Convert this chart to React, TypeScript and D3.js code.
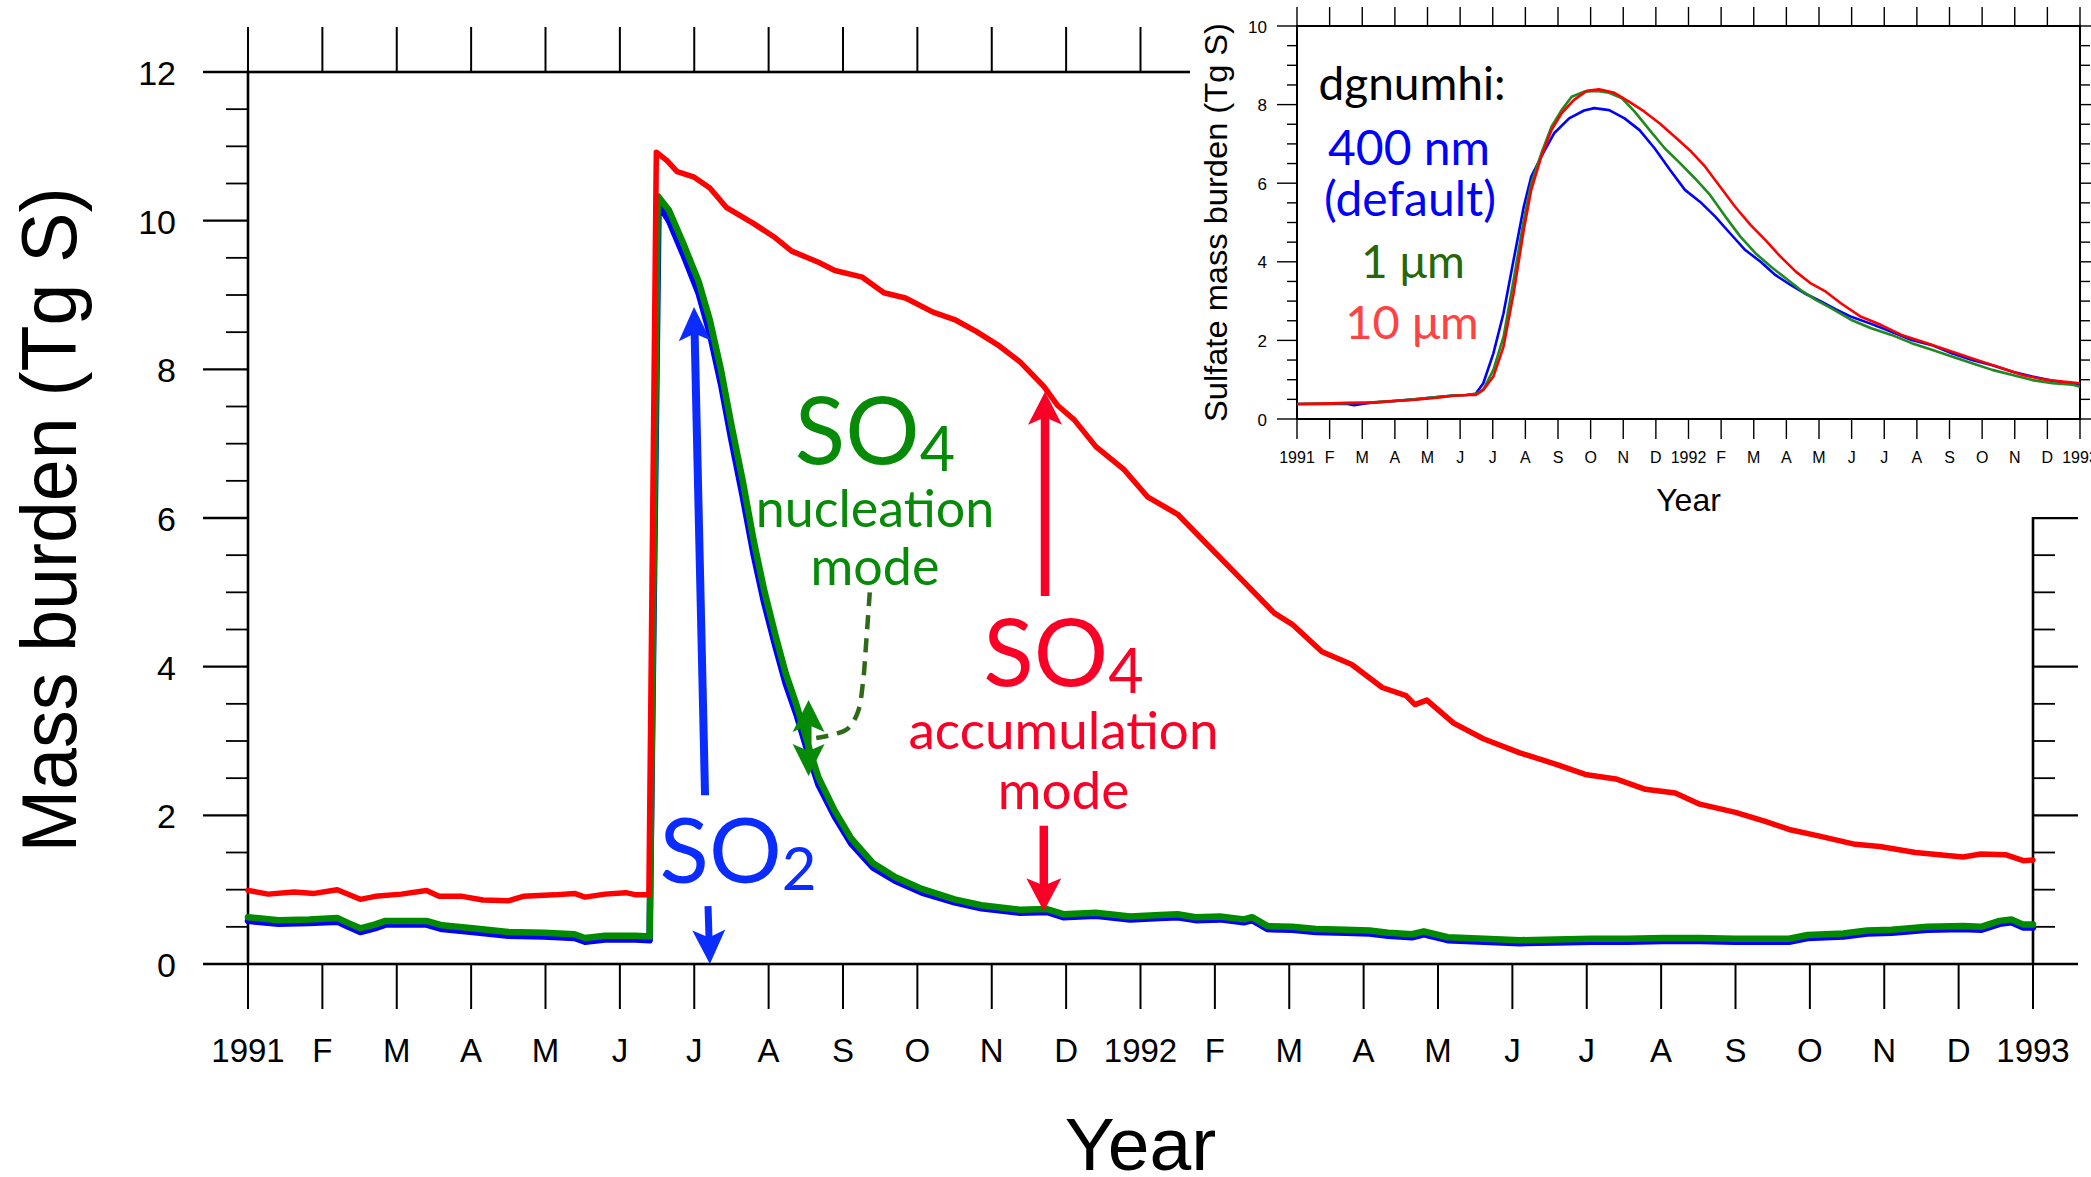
import React from "react";
import * as d3 from "d3";

type Pt = [number, number];

// x = months since 1 Jan 1991, y = burden (Tg S)
const so2Burden: Pt[] = [
  [0, 0.58], [0.41, 0.54], [0.82, 0.55], [1.2, 0.57], [1.35, 0.5], [1.51, 0.43], [1.7, 0.48], [1.85, 0.53],
  [2.4, 0.53], [2.61, 0.47], [3.02, 0.43], [3.5, 0.38], [3.98, 0.37], [4.39, 0.35], [4.53, 0.3], [4.8, 0.33],
  [5.21, 0.33], [5.4, 0.32], [5.52, 10.22], [5.66, 10.0], [5.85, 9.55], [6.06, 9.02], [6.21, 8.48], [6.36, 7.8],
  [6.5, 7.05], [6.65, 6.3], [6.8, 5.5], [6.94, 4.86], [7.09, 4.28], [7.23, 3.77], [7.38, 3.34], [7.53, 2.84],
  [7.67, 2.41], [7.89, 1.98], [8.11, 1.62], [8.4, 1.3], [8.7, 1.12], [9.06, 0.96], [9.5, 0.83], [9.86, 0.75],
  [10.38, 0.69], [10.74, 0.7], [10.96, 0.63], [11.4, 0.65], [11.86, 0.6], [12.26, 0.62], [12.5, 0.63],
  [12.74, 0.59], [13.07, 0.6], [13.39, 0.56], [13.5, 0.59], [13.71, 0.47], [14.04, 0.46], [14.36, 0.43],
  [14.76, 0.42], [15.08, 0.41], [15.33, 0.38], [15.65, 0.36], [15.81, 0.4], [16.13, 0.32], [16.62, 0.3],
  [17.1, 0.28], [17.58, 0.29], [18.06, 0.3], [18.55, 0.3], [19.03, 0.31], [19.52, 0.31], [20.0, 0.3],
  [20.48, 0.3], [20.72, 0.3], [20.97, 0.35], [21.45, 0.37], [21.77, 0.41], [22.1, 0.42], [22.58, 0.46],
  [23.06, 0.47], [23.3, 0.46], [23.55, 0.54], [23.71, 0.56], [23.87, 0.49], [24, 0.49],
];

const so4NucleationBurden: Pt[] = [
  [0, 0.63], [0.41, 0.59], [0.82, 0.6], [1.2, 0.62], [1.35, 0.55], [1.51, 0.48], [1.7, 0.53], [1.85, 0.58],
  [2.4, 0.58], [2.61, 0.52], [3.02, 0.48], [3.5, 0.43], [3.98, 0.42], [4.39, 0.4], [4.53, 0.35], [4.8, 0.38],
  [5.21, 0.38], [5.4, 0.37], [5.51, 10.33], [5.66, 10.14], [5.85, 9.7], [6.06, 9.18], [6.21, 8.66], [6.36, 7.99],
  [6.5, 7.25], [6.65, 6.51], [6.8, 5.69], [6.94, 5.03], [7.09, 4.43], [7.23, 3.91], [7.38, 3.47], [7.53, 2.95],
  [7.67, 2.51], [7.89, 2.06], [8.11, 1.69], [8.4, 1.36], [8.7, 1.17], [9.06, 1.01], [9.5, 0.87], [9.86, 0.79],
  [10.38, 0.73], [10.74, 0.74], [10.96, 0.67], [11.4, 0.69], [11.86, 0.64], [12.26, 0.66], [12.5, 0.67],
  [12.74, 0.63], [13.07, 0.64], [13.39, 0.6], [13.5, 0.63], [13.71, 0.51], [14.04, 0.5], [14.36, 0.47],
  [14.76, 0.46], [15.08, 0.45], [15.33, 0.42], [15.65, 0.4], [15.81, 0.44], [16.13, 0.36], [16.62, 0.34],
  [17.1, 0.32], [17.58, 0.33], [18.06, 0.34], [18.55, 0.34], [19.03, 0.35], [19.52, 0.35], [20.0, 0.34],
  [20.48, 0.34], [20.72, 0.34], [20.97, 0.39], [21.45, 0.41], [21.77, 0.45], [22.1, 0.46], [22.58, 0.5],
  [23.06, 0.51], [23.3, 0.5], [23.55, 0.58], [23.71, 0.6], [23.87, 0.53], [24, 0.53],
];

const so4AccumulationBurden: Pt[] = [
  [0, 0.99], [0.27, 0.94], [0.62, 0.97], [0.89, 0.95], [1.2, 1.0], [1.51, 0.87], [1.71, 0.91], [2.06, 0.94],
  [2.4, 0.99], [2.57, 0.91], [2.88, 0.91], [3.16, 0.86], [3.5, 0.85], [3.7, 0.91], [4.12, 0.93], [4.39, 0.95],
  [4.53, 0.9], [4.8, 0.94], [5.08, 0.96], [5.22, 0.93], [5.39, 0.93], [5.49, 10.92], [5.63, 10.81],
  [5.77, 10.66], [5.99, 10.59], [6.21, 10.44], [6.43, 10.18], [6.8, 9.96], [7.09, 9.77], [7.31, 9.59],
  [7.67, 9.44], [7.89, 9.33], [8.26, 9.24], [8.55, 9.03], [8.84, 8.96], [9.21, 8.77], [9.5, 8.67], [9.79, 8.51],
  [10.08, 8.33], [10.38, 8.1], [10.7, 7.77], [10.89, 7.51], [11.11, 7.32], [11.4, 6.96], [11.78, 6.65],
  [12.1, 6.28], [12.5, 6.05], [12.91, 5.63], [13.39, 5.14], [13.8, 4.72], [14.04, 4.57], [14.44, 4.2],
  [14.84, 4.03], [15.25, 3.72], [15.57, 3.61], [15.69, 3.49], [15.85, 3.55], [16.21, 3.24], [16.61, 3.03],
  [17.1, 2.84], [17.58, 2.69], [17.98, 2.55], [18.39, 2.49], [18.79, 2.35], [19.19, 2.3], [19.52, 2.15],
  [20.0, 2.04], [20.4, 1.92], [20.72, 1.81], [21.13, 1.72], [21.61, 1.61], [21.94, 1.58], [22.42, 1.5],
  [22.74, 1.47], [23.06, 1.44], [23.3, 1.48], [23.63, 1.47], [23.87, 1.39], [24, 1.4],
];

// Sulfate burden for three dgnumhi settings
const sulfate400nm: Pt[] = [
  [0, 0.38], [0.8, 0.38], [1.5, 0.39], [1.75, 0.35], [2.2, 0.41], [3.0, 0.46], [3.6, 0.5], [4.3, 0.56],
  [4.8, 0.6], [5.2, 0.61], [5.48, 0.64], [5.71, 0.91], [6.02, 1.67], [6.33, 2.69], [6.64, 4.05], [6.95, 5.4],
  [7.18, 6.17], [7.49, 6.68], [7.88, 7.27], [8.34, 7.65], [8.8, 7.85], [9.11, 7.91], [9.57, 7.86], [10.04, 7.65],
  [10.5, 7.35], [10.96, 6.89], [11.43, 6.34], [11.89, 5.83], [12.35, 5.53], [12.82, 5.15], [13.28, 4.72],
  [13.74, 4.3], [14.21, 4.0], [14.67, 3.66], [15.13, 3.41], [15.6, 3.18], [16.06, 2.99], [16.52, 2.79],
  [16.99, 2.6], [17.6, 2.42], [18.22, 2.22], [18.84, 2.01], [19.46, 1.88], [20.07, 1.67], [20.69, 1.5],
  [21.31, 1.37], [21.93, 1.2], [22.54, 1.08], [23.16, 0.97], [23.78, 0.91], [24, 0.87],
];

const sulfate1um: Pt[] = [
  [0, 0.38], [0.8, 0.39], [1.5, 0.4], [2.2, 0.42], [3.0, 0.46], [3.6, 0.5], [4.3, 0.56], [4.8, 0.6],
  [5.2, 0.61], [5.48, 0.64], [5.71, 0.75], [6.02, 1.25], [6.33, 2.09], [6.64, 3.54], [6.95, 5.06], [7.18, 6.0],
  [7.49, 6.76], [7.8, 7.44], [8.11, 7.86], [8.42, 8.2], [8.8, 8.33], [9.19, 8.35], [9.57, 8.3], [9.96, 8.16],
  [10.35, 7.82], [10.81, 7.35], [11.27, 6.89], [11.74, 6.51], [12.2, 6.12], [12.66, 5.7], [13.13, 5.15],
  [13.59, 4.64], [14.05, 4.22], [14.52, 3.88], [14.98, 3.58], [15.44, 3.28], [15.9, 3.03], [16.37, 2.82],
  [16.99, 2.52], [17.6, 2.31], [18.22, 2.14], [18.84, 1.93], [19.46, 1.76], [20.07, 1.59], [20.69, 1.42],
  [21.31, 1.25], [21.93, 1.12], [22.54, 0.99], [23.16, 0.91], [23.78, 0.87], [24, 0.82],
];

const sulfate10um: Pt[] = [
  [0, 0.38], [0.8, 0.39], [1.5, 0.41], [2.2, 0.41], [3.0, 0.46], [3.6, 0.49], [4.3, 0.54], [4.8, 0.59],
  [5.2, 0.61], [5.48, 0.61], [5.71, 0.74], [6.02, 1.08], [6.33, 1.84], [6.64, 3.2], [6.95, 4.81], [7.18, 5.83],
  [7.49, 6.68], [7.8, 7.35], [8.11, 7.78], [8.49, 8.12], [8.88, 8.35], [9.26, 8.39], [9.73, 8.3], [10.19, 8.07],
  [10.65, 7.82], [11.12, 7.52], [11.58, 7.18], [12.04, 6.84], [12.51, 6.42], [12.97, 5.91], [13.43, 5.4],
  [13.9, 4.94], [14.36, 4.55], [14.82, 4.13], [15.29, 3.75], [15.75, 3.45], [16.21, 3.24], [16.68, 2.94],
  [17.29, 2.6], [17.91, 2.39], [18.53, 2.14], [19.15, 1.97], [19.77, 1.8], [20.38, 1.63], [21.0, 1.46],
  [21.62, 1.29], [22.24, 1.12], [22.85, 1.01], [23.47, 0.95], [24, 0.91],
];

const monthLabels = [
  "1991", "F", "M", "A", "M", "J", "J", "A", "S", "O", "N", "D",
  "1992", "F", "M", "A", "M", "J", "J", "A", "S", "O", "N", "D", "1993",
];
const mainYTicks = [0, 2, 4, 6, 8, 10, 12];
const insetYTicks = [0, 2, 4, 6, 8, 10];

// ---- layout ----
const W = 2091;
const H = 1177;
const M = { left: 248, right: 2033, top: 72, bottom: 964 };
const I = { left: 1297, right: 2080, top: 26, bottom: 419 };
const NCL_FONT = "'Liberation Sans', Arial, Helvetica, sans-serif";
const NOTE_FONT = "Lato, 'Open Sans', sans-serif";

const COLORS = {
  so2: "#0000ff",
  nuc: "#008a00",
  acc: "#ff0000",
  so2Note: "#0a2cff",
  nucNote: "#078a07",
  accNote: "#fb0026",
  dashed: "#2f6a16",
  legend400: "#0000ff",
  legend1: "#24680a",
  legend10: "#ff4242",
  inset1: "#1f8a1f",
};

const x = d3.scaleLinear().domain([0, 24]).range([M.left, M.right]);
const y = d3.scaleLinear().domain([0, 12]).range([M.bottom, M.top]);
const xi = d3.scaleLinear().domain([0, 24]).range([I.left, I.right]);
const yi = d3.scaleLinear().domain([0, 10]).range([I.bottom, I.top]);

const mainLine = d3.line<Pt>().x((d) => x(d[0])).y((d) => y(d[1]));
const insetLine = d3.line<Pt>().x((d) => xi(d[0])).y((d) => yi(d[1]));

// Annotation anchors in data units (month, Tg S)
const so2UpArrow: [Pt, Pt] = [[6.145, 2.27], [5.997, 8.84]];
const so2DownArrow: [Pt, Pt] = [[6.185, 0.78], [6.21, 0.0]];
const accUpArrow: [Pt, Pt] = [[10.716, 4.95], [10.716, 7.7]];
const accDownArrow: [Pt, Pt] = [[10.7, 1.86], [10.7, 0.71]];
const nucDoubleArrow: [Pt, Pt] = [[7.537, 2.53], [7.537, 3.55]];
const nucLeader: Pt[] = [[8.36, 5.0], [8.31, 4.3], [8.27, 3.8], [8.2, 3.39], [8.07, 3.17], [7.92, 3.1], [7.64, 3.04]];
const nucLabelAt: Pt = [8.43, 6.727];
const accLabelAt: Pt = [10.965, 3.74];
const so2LabelAt: Pt = [6.59, 1.09];

function headPath(tip: [number, number], dir: [number, number], len: number, width: number) {
  const [ux, uy] = dir;
  const nx = -uy;
  const ny = ux;
  const bx = tip[0] - ux * len;
  const by = tip[1] - uy * len;
  const notchX = tip[0] - ux * len * 0.78;
  const notchY = tip[1] - uy * len * 0.78;
  return `M${tip[0]},${tip[1]} L${bx + (nx * width) / 2},${by + (ny * width) / 2} L${notchX},${notchY} L${bx - (nx * width) / 2},${by - (ny * width) / 2} Z`;
}

function Arrow({ seg, color, shaft = 8, len = 33, width = 33, both = false }: {
  seg: [Pt, Pt]; color: string; shaft?: number; len?: number; width?: number; both?: boolean;
}) {
  const p0: [number, number] = [x(seg[0][0]), y(seg[0][1])];
  const p1: [number, number] = [x(seg[1][0]), y(seg[1][1])];
  const dx = p1[0] - p0[0];
  const dy = p1[1] - p0[1];
  const L = Math.hypot(dx, dy);
  const u: [number, number] = [dx / L, dy / L];
  const end: [number, number] = [p1[0] - u[0] * len * 0.7, p1[1] - u[1] * len * 0.7];
  const start: [number, number] = both ? [p0[0] + u[0] * len * 0.7, p0[1] + u[1] * len * 0.7] : p0;
  return (
    <g>
      <line x1={start[0]} y1={start[1]} x2={end[0]} y2={end[1]} stroke={color} strokeWidth={shaft} />
      <path d={headPath(p1, u, len, width)} fill={color} />
      {both && <path d={headPath(p0, [-u[0], -u[1]], len, width)} fill={color} />}
    </g>
  );
}

function Species({ at, base, sub, color, size, subSize }: {
  at: Pt; base: string; sub: string; color: string; size: number; subSize: number;
}) {
  return (
    <text x={x(at[0])} y={y(at[1])} textAnchor="middle" fontFamily={NOTE_FONT} fontSize={size} fill={color}>
      {base}
      <tspan fontSize={subSize} dy={7}>{sub}</tspan>
    </text>
  );
}

export default function App() {
  const months = d3.range(0, 25);
  const mainMinor = d3.range(0, 12.01, 0.5);
  const insetMinor = d3.range(0, 10.01, 0.5);

  return (
    <svg
      width={W}
      height={H}
      viewBox={`0 0 ${W} ${H}`}
      style={{ position: "absolute", left: 0, top: 0, background: "#fff", display: "block" }}
    >
      <rect x={0} y={0} width={W} height={H} fill="#fff" />

      {/* ===== main panel ===== */}
      <g stroke="#000" strokeWidth={2}>
        {months.map((m) => (
          <g key={`mt${m}`}>
            <line x1={x(m)} x2={x(m)} y1={M.top} y2={M.top - 45} />
            <line x1={x(m)} x2={x(m)} y1={M.bottom} y2={M.bottom + 45} />
          </g>
        ))}
        {mainMinor.map((v) => {
          const major = Math.abs(v % 2) < 1e-6;
          const len = major ? 45 : 22;
          return (
            <g key={`my${v}`} strokeWidth={major ? 2.4 : 1.8}>
              <line x1={M.left} x2={M.left - len} y1={y(v)} y2={y(v)} />
              <line x1={M.right} x2={M.right + len} y1={y(v)} y2={y(v)} />
            </g>
          );
        })}
      </g>
      <rect
        x={M.left}
        y={M.top}
        width={M.right - M.left}
        height={M.bottom - M.top}
        fill="none"
        stroke="#000"
        strokeWidth={2.6}
      />

      <g fontFamily={NCL_FONT} fontSize={34} fill="#000">
        {mainYTicks.map((v) => (
          <text key={`yl${v}`} x={176} y={y(v) + 13} textAnchor="end">
            {v}
          </text>
        ))}
        {monthLabels.map((t, i) => (
          <text key={`xl${i}`} x={x(i)} y={1062} textAnchor="middle" fontSize={33}>
            {t}
          </text>
        ))}
      </g>
      <text x={(M.left + M.right) / 2} y={1170} textAnchor="middle" fontFamily={NCL_FONT} fontSize={75}>
        Year
      </text>
      <text
        transform={`translate(76,520) rotate(-90)`}
        textAnchor="middle"
        fontFamily={NCL_FONT}
        fontSize={77}
        textLength={665}
        lengthAdjust="spacingAndGlyphs"
      >
        Mass burden (Tg S)
      </text>

      {/* series */}
      <g fill="none" strokeLinejoin="round" strokeLinecap="round">
        <path d={mainLine(so2Burden) ?? ""} stroke={COLORS.so2} strokeWidth={6.5} />
        <path d={mainLine(so4NucleationBurden) ?? ""} stroke={COLORS.nuc} strokeWidth={6.5} />
        <path d={mainLine(so4AccumulationBurden) ?? ""} stroke={COLORS.acc} strokeWidth={5.5} />
      </g>

      {/* annotations */}
      <Arrow seg={so2UpArrow} color={COLORS.so2Note} shaft={8} len={34} width={32} />
      <Arrow seg={so2DownArrow} color={COLORS.so2Note} shaft={7} len={34} width={33} />
      <Arrow seg={accUpArrow} color={COLORS.accNote} shaft={8.5} len={33} width={34} />
      <Arrow seg={accDownArrow} color={COLORS.accNote} shaft={8.5} len={33} width={35} />
      <Arrow seg={nucDoubleArrow} color={COLORS.nucNote} shaft={6} len={32} width={32} both />
      <path
        d={
          d3
            .line<Pt>()
            .x((d) => x(d[0]))
            .y((d) => y(d[1]))
            .curve(d3.curveCatmullRom)(nucLeader) ?? ""
        }
        fill="none"
        stroke={COLORS.dashed}
        strokeWidth={4.5}
        strokeDasharray="14 9"
      />

      <Species at={nucLabelAt} base="SO" sub="4" color={COLORS.nucNote} size={93} subSize={61} />
      <text x={x(nucLabelAt[0])} y={527} textAnchor="middle" fontFamily={NOTE_FONT} fontSize={52} fill={COLORS.nucNote}>
        nucleation
      </text>
      <text x={x(nucLabelAt[0])} y={585} textAnchor="middle" fontFamily={NOTE_FONT} fontSize={52} fill={COLORS.nucNote}>
        mode
      </text>

      <Species at={accLabelAt} base="SO" sub="4" color={COLORS.accNote} size={93} subSize={61} />
      <text x={x(accLabelAt[0])} y={749} textAnchor="middle" fontFamily={NOTE_FONT} fontSize={53} fill={COLORS.accNote}>
        accumulation
      </text>
      <text x={x(accLabelAt[0])} y={809} textAnchor="middle" fontFamily={NOTE_FONT} fontSize={53} fill={COLORS.accNote}>
        mode
      </text>

      <Species at={so2LabelAt} base="SO" sub="2" color={COLORS.so2Note} size={91} subSize={60} />

      {/* ===== inset panel ===== */}
      <rect x={1190} y={0} width={W - 1190} height={517} fill="#fff" />
      <g stroke="#000" strokeWidth={1.4}>
        {months.map((m) => (
          <g key={`it${m}`}>
            <line x1={xi(m)} x2={xi(m)} y1={I.top} y2={I.top - 19} />
            <line x1={xi(m)} x2={xi(m)} y1={I.bottom} y2={I.bottom + 20} />
          </g>
        ))}
        {insetMinor.map((v) => {
          const major = Math.abs(v % 2) < 1e-6;
          const len = major ? 20 : 10;
          return (
            <g key={`iy${v}`}>
              <line x1={I.left} x2={I.left - len} y1={yi(v)} y2={yi(v)} />
              <line x1={I.right} x2={I.right + len} y1={yi(v)} y2={yi(v)} />
            </g>
          );
        })}
      </g>
      <rect
        x={I.left}
        y={I.top}
        width={I.right - I.left}
        height={I.bottom - I.top}
        fill="none"
        stroke="#000"
        strokeWidth={2}
      />
      <g fontFamily={NCL_FONT} fill="#000">
        {insetYTicks.map((v) => (
          <text key={`iyl${v}`} x={1267} y={yi(v) + 6.5} textAnchor="end" fontSize={17}>
            {v}
          </text>
        ))}
        {monthLabels.map((t, i) => (
          <text key={`ixl${i}`} x={xi(i)} y={463} textAnchor="middle" fontSize={16}>
            {t}
          </text>
        ))}
      </g>
      <text x={(I.left + I.right) / 2} y={511} textAnchor="middle" fontFamily={NCL_FONT} fontSize={32}>
        Year
      </text>
      <text
        transform={`translate(1227,222.5) rotate(-90)`}
        textAnchor="middle"
        fontFamily={NCL_FONT}
        fontSize={31}
        textLength={399}
        lengthAdjust="spacingAndGlyphs"
      >
        Sulfate mass burden (Tg S)
      </text>

      <g fill="none" strokeWidth={2.6} strokeLinejoin="round">
        <path d={insetLine(sulfate400nm) ?? ""} stroke={COLORS.so2} />
        <path d={insetLine(sulfate1um) ?? ""} stroke={COLORS.inset1} />
        <path d={insetLine(sulfate10um) ?? ""} stroke={COLORS.acc} />
      </g>

      <g fontFamily={NOTE_FONT} textAnchor="middle">
        <text x={1412} y={100} fontSize={46} fill="#000">dgnumhi:</text>
        <text x={1409} y={165} fontSize={48} fill={COLORS.legend400}>400 nm</text>
        <text x={1410} y={216} fontSize={48} fill={COLORS.legend400}>(default)</text>
        <text x={1413} y={278} fontSize={46} fill={COLORS.legend1}>1 μm</text>
        <text x={1412} y={339} fontSize={47} fill={COLORS.legend10}>10 μm</text>
      </g>
    </svg>
  );
}
